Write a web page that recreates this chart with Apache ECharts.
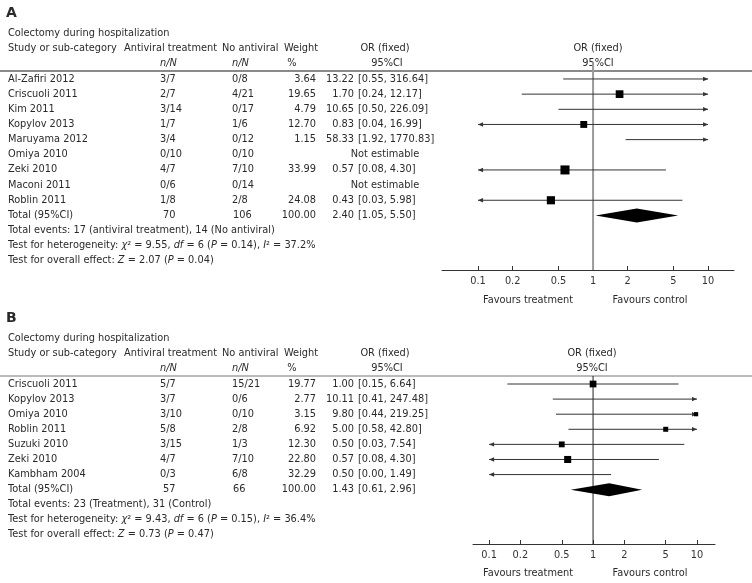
<!DOCTYPE html>
<html><head><meta charset="utf-8">
<script src="https://cdn.jsdelivr.net/npm/echarts@6/dist/echarts.min.js"></script>
<style>html,body{margin:0;padding:0;background:#fff}#c{width:752px;height:583px}</style>
</head><body><div id="c"></div>
<script>
// ---------- Panel A data ----------
const studiesA = ['Al-Zafiri 2012','Criscuoli 2011','Kim 2011','Kopylov 2013','Maruyama 2012','Omiya 2010','Zeki 2010','Maconi 2011','Roblin 2011'];
const treatA   = ['3/7','2/7','3/14','1/7','3/4','0/10','4/7','0/6','1/8'];
const ctrlA    = ['0/8','4/21','0/17','1/6','0/12','0/10','7/10','0/14','2/8'];
const weightA  = [3.64,19.65,4.79,12.70,1.15,null,33.99,null,24.08];
const orA      = [13.22,1.70,10.65,0.83,58.33,null,0.57,null,0.43];
const loA      = [0.55,0.24,0.50,0.04,1.92,null,0.08,null,0.03];
const hiA      = [316.64,12.17,226.09,16.99,1770.83,null,4.30,null,5.98];
const totalA   = {treat:'70', ctrl:'106', weight:100.00, or:2.40, lo:1.05, hi:5.50};
const eventsA  = 'Total events: 17 (antiviral treatment), 14 (No antiviral)';
const hetA     = {chi2:'9.55', df:'6', p:'0.14', i2:'37.2%'};
const effA     = {z:'2.07', p:'0.04'};

// ---------- Panel B data ----------
const studiesB = ['Criscuoli 2011','Kopylov 2013','Omiya 2010','Roblin 2011','Suzuki 2010','Zeki 2010','Kambham 2004'];
const treatB   = ['5/7','3/7','3/10','5/8','3/15','4/7','0/3'];
const ctrlB    = ['15/21','0/6','0/10','2/8','1/3','7/10','6/8'];
const weightB  = [19.77,2.77,3.15,6.92,12.30,22.80,32.29];
const orB      = [1.00,10.11,9.80,5.00,0.50,0.57,0.50];
const loB      = [0.15,0.41,0.44,0.58,0.03,0.08,0.00];
const hiB      = [6.64,247.48,219.25,42.80,7.54,4.30,1.49];
const totalB   = {treat:'57', ctrl:'66', weight:100.00, or:1.43, lo:0.61, hi:2.96};
const eventsB  = 'Total events: 23 (Treatment), 31 (Control)';
const hetB     = {chi2:'9.43', df:'6', p:'0.15', i2:'36.4%'};
const effB     = {z:'0.73', p:'0.47'};

// ---------- Axis ticks ----------
const tickValues = [0.1,0.2,0.5,1,2,5,10];
const CLIP_LO = 0.1, CLIP_HI = 10;

// ---------- styling ----------
const FONT = '"DejaVu Sans", Verdana, sans-serif';
const FS = 9.8;
const TXT = '#2a2a2a';
const font = (s, extra) => (extra ? extra + ' ' : '') + s + 'px ' + FONT;

const chart = echarts.init(document.getElementById('c'), null, {renderer:'canvas'});

function arrowHead(p, dir, color) {
  const x = p[0], y = p[1];
  return {type:'polygon', shape:{points:[[x,y],[x-dir*5,y-2.2],[x-dir*5,y+2.2]]}, style:{fill:color}};
}

function buildPanel(cfg) {
  const n = cfg.studies.length;
  const gi = cfg.gridIndex;
  const series = [];
  const graphics = [];

  // CI lines + boxes
  const ciData = [];
  for (let i = 0; i < n; i++) {
    if (cfg.or[i] == null) continue;
    ciData.push([cfg.or[i], i, cfg.lo[i], cfg.hi[i], cfg.weight[i]]);
  }
  series.push({
    type:'custom', xAxisIndex:gi, yAxisIndex:gi, clip:false, silent:true,
    encode:{x:0, y:1},
    data: ciData,
    renderItem: function(params, api) {
      const or = api.value(0), row = api.value(1), lo = api.value(2), hi = api.value(3), w = api.value(4);
      const loC = Math.max(lo, CLIP_LO), hiC = Math.min(hi, CLIP_HI);
      const p1 = api.coord([loC, row]), p2 = api.coord([hiC, row]);
      const col = cfg.ciColor;
      const ch = [{type:'line', shape:{x1:p1[0], y1:p1[1], x2:p2[0], y2:p2[1]}, style:{stroke:col, lineWidth:1}}];
      if (lo < CLIP_LO) ch.push(arrowHead(p1, -1, col));
      if (hi > CLIP_HI) ch.push(arrowHead(p2, 1, col));
      if (lo > 0 && or >= CLIP_LO && or <= CLIP_HI) {
        const c = api.coord([or, row]);
        const s = cfg.boxBase + Math.sqrt(w) * cfg.boxK;
        ch.push({type:'rect', shape:{x:c[0]-s/2, y:c[1]-s/2, width:s, height:s}, style:{fill:'#000'}});
      }
      return {type:'group', children:ch};
    }
  });

  // pooled diamond
  const tr = n; // total row index
  series.push({
    type:'custom', xAxisIndex:gi, yAxisIndex:gi, clip:false, silent:true,
    encode:{x:0, y:1},
    data:[[cfg.total.or, tr, cfg.total.lo, cfg.total.hi]],
    renderItem: function(params, api) {
      const c = api.coord([api.value(0), api.value(1)]);
      const l = api.coord([api.value(2), api.value(1)]);
      const r = api.coord([api.value(3), api.value(1)]);
      const h = cfg.diamondH;
      return {type:'polygon', shape:{points:[[l[0],c[1]],[c[0],c[1]-h],[r[0],c[1]],[c[0],c[1]+h]]}, style:{fill:'#000'}};
    }
  });

  // line of no effect
  series.push({
    type:'line', xAxisIndex:gi, yAxisIndex:gi, silent:true, symbol:'none',
    data:[[1, cfg.yMin],[1, cfg.yMax]],
    lineStyle:{color:cfg.nullColor, width:cfg.nullWidth}, z:1
  });

  // table text rows
  const rowsIdx = [];
  for (let i = 0; i <= n; i++) rowsIdx.push([1, i, i]);
  const cols = cfg.cols;
  series.push({
    type:'custom', xAxisIndex:gi, yAxisIndex:gi, clip:false, silent:true,
    encode:{x:0, y:1},
    data: rowsIdx,
    renderItem: function(params, api) {
      const idx = api.value(2);
      const y = api.coord([1, api.value(1)])[1];
      const t = (x, text, align) => ({type:'text', x:x, y:y, style:{text:text, fill:TXT, font:font(FS), align:align, verticalAlign:'middle'}});
      const ch = [];
      if (idx < n) {
        ch.push(t(cols.name, cfg.studies[idx], 'left'));
        ch.push(t(cols.treat, cfg.treat[idx], 'left'));
        ch.push(t(cols.ctrl, cfg.ctrl[idx], 'left'));
        if (cfg.or[idx] == null) {
          ch.push(t(cols.orCenter, 'Not estimable', 'center'));
        } else {
          ch.push(t(cols.weight, cfg.weight[idx].toFixed(2), 'right'));
          ch.push(t(cols.est, cfg.or[idx].toFixed(2), 'right'));
          ch.push(t(cols.est + 4, '[' + cfg.lo[idx].toFixed(2) + ', ' + cfg.hi[idx].toFixed(2) + ']', 'left'));
        }
      } else {
        ch.push(t(cols.name, 'Total (95%CI)', 'left'));
        ch.push(t(cols.treat + 3, cfg.total.treat, 'left'));
        ch.push(t(cols.ctrl + 1, cfg.total.ctrl, 'left'));
        ch.push(t(cols.weight, cfg.total.weight.toFixed(2), 'right'));
        ch.push(t(cols.est, cfg.total.or.toFixed(2), 'right'));
        ch.push(t(cols.est + 4, '[' + cfg.total.lo.toFixed(2) + ', ' + cfg.total.hi.toFixed(2) + ']', 'left'));
      }
      return {type:'group', children:ch};
    }
  });

  // headers & footers (graphic)
  const oy = cfg.offsetY;
  const gt = (x, y, text, align, f) => ({type:'text', x:x, y:y+oy, silent:true, style:{text:text, fill:TXT, font:f || font(FS), align:align||'left', verticalAlign:'middle'}});
  graphics.push(gt(6, 13, cfg.label, 'left', font(14, 'bold')));
  graphics.push(gt(cols.name, 33, 'Colectomy during hospitalization'));
  graphics.push(gt(cols.name, 48, 'Study or sub-category'));
  graphics.push(gt(124, 48, 'Antiviral treatment'));
  graphics.push(gt(222, 48, 'No antiviral'));
  graphics.push(gt(284, 48, 'Weight'));
  graphics.push(gt(cols.orCenter, 48, 'OR (fixed)', 'center'));
  graphics.push(gt(cfg.plotHeadX, 48, 'OR (fixed)', 'center'));
  graphics.push(gt(cols.treat, 63, 'n/N', 'left', font(FS, 'italic')));
  graphics.push(gt(cols.ctrl, 63, 'n/N', 'left', font(FS, 'italic')));
  graphics.push(gt(292, 63, '%', 'center'));
  graphics.push(gt(cols.orCenter + 2, 63, '95%CI', 'center'));
  graphics.push(gt(cfg.plotHeadX, 63, '95%CI', 'center'));
  graphics.push({type:'line', silent:true, shape:{x1:0, y1:71+oy, x2:752, y2:71+oy}, style:{stroke:cfg.ruleColor, lineWidth:cfg.ruleWidth}});

  const fy0 = cfg.footerY;
  graphics.push(gt(cols.name, fy0, cfg.events));
  const rich = {n:{font:font(FS), fill:TXT}, i:{font:font(FS,'italic'), fill:TXT}};
  graphics.push({type:'text', x:cols.name, y:fy0+15+oy, silent:true, style:{
    text:'{n|Test for heterogeneity: }{i|χ}{n|² = ' + cfg.het.chi2 + ', }{i|df}{n| = ' + cfg.het.df + ' (}{i|P}{n| = ' + cfg.het.p + '), }{i|I}{n|² = ' + cfg.het.i2 + '}',
    rich:rich, verticalAlign:'middle', align:'left', font:font(FS), fill:TXT}});
  graphics.push({type:'text', x:cols.name, y:fy0+30+oy, silent:true, style:{
    text:'{n|Test for overall effect: }{i|Z}{n| = ' + cfg.eff.z + ' (}{i|P}{n| = ' + cfg.eff.p + ')}',
    rich:rich, verticalAlign:'middle', align:'left', font:font(FS), fill:TXT}});

  graphics.push(gt(528, cfg.favY, 'Favours treatment', 'center'));
  graphics.push(gt(650, cfg.favY, 'Favours control', 'center'));

  const grid = {left:cfg.gridLeft, width:cfg.gridWidth, top:cfg.gridTop, height:cfg.gridHeight, containLabel:false};
  const xAxis = {
    gridIndex:gi, type:'log', logBase:10, min:cfg.xMin, max:cfg.xMax,
    axisLine:{show:true, onZero:false, lineStyle:{color:'#333', width:1}},
    axisTick:{show:true, inside:true, length:4, customValues:tickValues, lineStyle:{color:'#333'}},
    axisLabel:{show:true, customValues:tickValues, margin:6, color:'#333', fontFamily:FONT, fontSize:FS, formatter:v => String(v)},
    splitLine:{show:false}, minorTick:{show:false}
  };
  const yAxis = {gridIndex:gi, type:'value', inverse:true, min:cfg.yMin, max:cfg.yMax, show:false};
  return {series, graphics, grid, xAxis, yAxis};
}

const colsCommon = {name:8, treat:160, ctrl:232, weight:316, est:354, orCenter:385};

const pA = buildPanel({
  gridIndex:0, label:'A', studies:studiesA, treat:treatA, ctrl:ctrlA, weight:weightA, or:orA, lo:loA, hi:hiA,
  total:totalA, events:eventsA, het:hetA, eff:effA, cols:colsCommon,
  offsetY:0, footerY:230, favY:300, plotHeadX:598,
  gridLeft:442, gridWidth:292, gridTop:62, gridHeight:208, xMin:0.0486, xMax:16.8, yMin:-1.12, yMax:12.6,
  ciColor:'#333', nullColor:'#9a9a9a', nullWidth:2, ruleColor:'#8a8a8a', ruleWidth:2,
  boxBase:3.5, boxK:0.95, diamondH:7
});
const pB = buildPanel({
  gridIndex:1, label:'B', studies:studiesB, treat:treatB, ctrl:ctrlB, weight:weightB, or:orB, lo:loB, hi:hiB,
  total:totalB, events:eventsB, het:hetB, eff:effB, cols:colsCommon,
  offsetY:305, footerY:504-305, favY:573-305, plotHeadX:592,
  gridLeft:473, gridWidth:242, gridTop:376, gridHeight:168, xMin:0.070, xMax:14.9, yMin:-0.53, yMax:10.6,
  ciColor:'#333', nullColor:'#222', nullWidth:1, ruleColor:'#777', ruleWidth:1,
  boxBase:2.5, boxK:0.95, diamondH:6.5
});

chart.setOption({
  animation:false,
  backgroundColor:'#fff',
  grid:[pA.grid, pB.grid],
  xAxis:[pA.xAxis, pB.xAxis],
  yAxis:[pA.yAxis, pB.yAxis],
  series:[...pA.series, ...pB.series],
  graphic:{elements:[...pA.graphics, ...pB.graphics]}
});
</script></body></html>
